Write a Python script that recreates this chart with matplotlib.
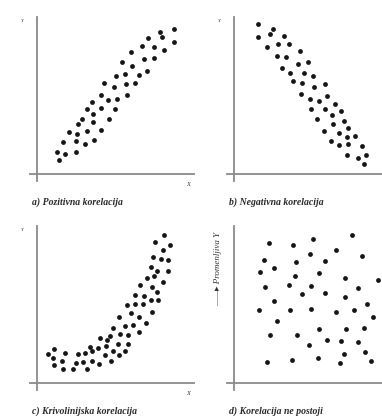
import matplotlib
matplotlib.use("Agg")
import matplotlib.pyplot as plt

# values (arbitrary units, origin at the axis crossing)
pos_x = [412, 368, 376, 332, 410, 316, 351, 283, 381, 321, 350, 256, 286, 331, 237, 265,
         307, 200, 232, 267, 294, 191, 214, 240, 271, 165, 149, 193, 235, 169, 135, 122,
         167, 216, 97, 121, 149, 192, 77, 117, 144, 171, 59, 84, 117, 66]
pos_y = [435, 425, 410, 407, 397, 385, 381, 365, 371, 345, 347, 336, 325, 310, 295, 301,
         298, 274, 260, 270, 273, 237, 221, 225, 236, 216, 196, 197, 194, 180, 165, 149,
         155, 166, 125, 120, 128, 133, 97, 98, 91, 101, 67, 59, 65, 41]

neg_x = [73, 117, 109, 71, 150, 132, 165, 100, 197, 130, 157, 221, 191, 145, 169, 210,
         237, 178, 204, 241, 274, 201, 229, 255, 280, 304, 230, 273, 295, 320, 250, 329,
         297, 342, 270, 314, 364, 340, 290, 316, 342, 383, 339, 371, 397, 390]
neg_y = [449, 434, 419, 410, 415, 390, 391, 381, 369, 355, 352, 336, 329, 318, 304, 304,
         295, 279, 272, 260, 270, 239, 226, 220, 234, 210, 195, 195, 177, 189, 166, 160,
         149, 139, 129, 122, 114, 110, 99, 87, 89, 85, 57, 47, 56, 29]

cur_x = [381, 355, 400, 377, 349, 371, 392, 341, 361, 392, 329, 350, 309, 344, 379, 361,
         293, 321, 269, 293, 319, 341, 364, 247, 283, 307, 344, 227, 264, 287, 326, 189,
         209, 219, 248, 274, 306, 160, 184, 206, 242, 273, 122, 145, 164, 204, 229, 245,
         263, 32, 51, 84, 49, 76, 116, 137, 164, 187, 222, 51, 77, 107, 149]
cur_y = [443, 422, 415, 400, 378, 373, 369, 348, 337, 335, 315, 322, 295, 288, 302, 273,
         264, 262, 235, 237, 238, 248, 250, 198, 209, 198, 213, 164, 170, 173, 181, 136,
         128, 142, 147, 144, 154, 107, 104, 112, 116, 118, 86, 90, 95, 83, 95, 84,
         97, 88, 102, 89, 74, 66, 61, 63, 66, 58, 65, 54, 42, 42, 42]

non_x = [353, 104, 176, 236, 228, 307, 385, 90, 187, 274, 119, 78, 184, 254, 333, 432,
         94, 164, 232, 372, 203, 272, 333, 120, 398, 76, 167, 230, 305, 359, 128, 418,
         109, 188, 255, 335, 391, 226, 278, 322, 373, 329, 392, 100, 175, 252, 318, 412]
non_y = [445, 421, 415, 433, 388, 399, 382, 369, 362, 367, 344, 334, 321, 331, 315, 310,
         289, 295, 292, 284, 266, 271, 259, 245, 237, 220, 220, 223, 213, 220, 186, 198,
         145, 145, 163, 163, 165, 114, 130, 125, 122, 88, 93, 64, 69, 74, 60, 65]

captions = ["a) Pozitivna korelacija", "b) Negativna korelacija",
            "c) Krivolinijska korelacija", "d) Korelacija ne postoji"]

W, H = 382, 419
fig = plt.figure(figsize=(W / 100, H / 100), dpi=100)
serif = ["Liberation Serif", "DejaVu Serif"]


def panel(ox, oy, xs, ys, caption, xlabel=True, ylab=None):
    # axes box in pixels, 3 data units per pixel
    left, right, top, bottom = ox - 7, ox + 155, oy - 160, oy + 7
    ax = fig.add_axes([left / W, 1 - bottom / H, (right - left) / W, (bottom - top) / H])
    ax.set_xlim(-21, 465)
    ax.set_ylim(-21, 480)
    ax.axis("off")
    ax.plot([-21, 470], [0, 0], color="#8a8a8a", lw=1.3, clip_on=False)
    ax.plot([0, 0], [-21, 470], color="#8a8a8a", lw=1.3, clip_on=False)
    ax.scatter(xs, ys, s=12, color="#161616", linewidths=0, clip_on=False)
    if ylab is None:
        ax.text(-45, 458, "Y", fontsize=3.5, family=serif, style="italic",
                ha="center", va="center", color="#333333")
    else:
        ax.text(-48, 342, ylab, fontsize=6.5, family=serif, style="italic",
                rotation=90, ha="center", va="center", color="#333333")
    if xlabel:
        ax.text(454, -30, "X", fontsize=4.5, family=serif, style="italic",
                ha="center", va="center", color="#333333", clip_on=False)
    fig.text((ox - 5) / W, 1 - (oy + 28) / H, caption, fontsize=7, family=serif,
             style="italic", weight="bold", ha="left", va="center", color="#2a2a2a")
    return ax


panel(37, 174, pos_x, pos_y, captions[0])
panel(234, 174, neg_x, neg_y, captions[1], xlabel=False)
panel(37, 383, cur_x, cur_y, captions[2])
panel(234, 383, non_x, non_y, captions[3], xlabel=False,
      ylab="\u2014\u2014\u25b8 Promenljiva Y")

fig.savefig("out.png", dpi=100)
